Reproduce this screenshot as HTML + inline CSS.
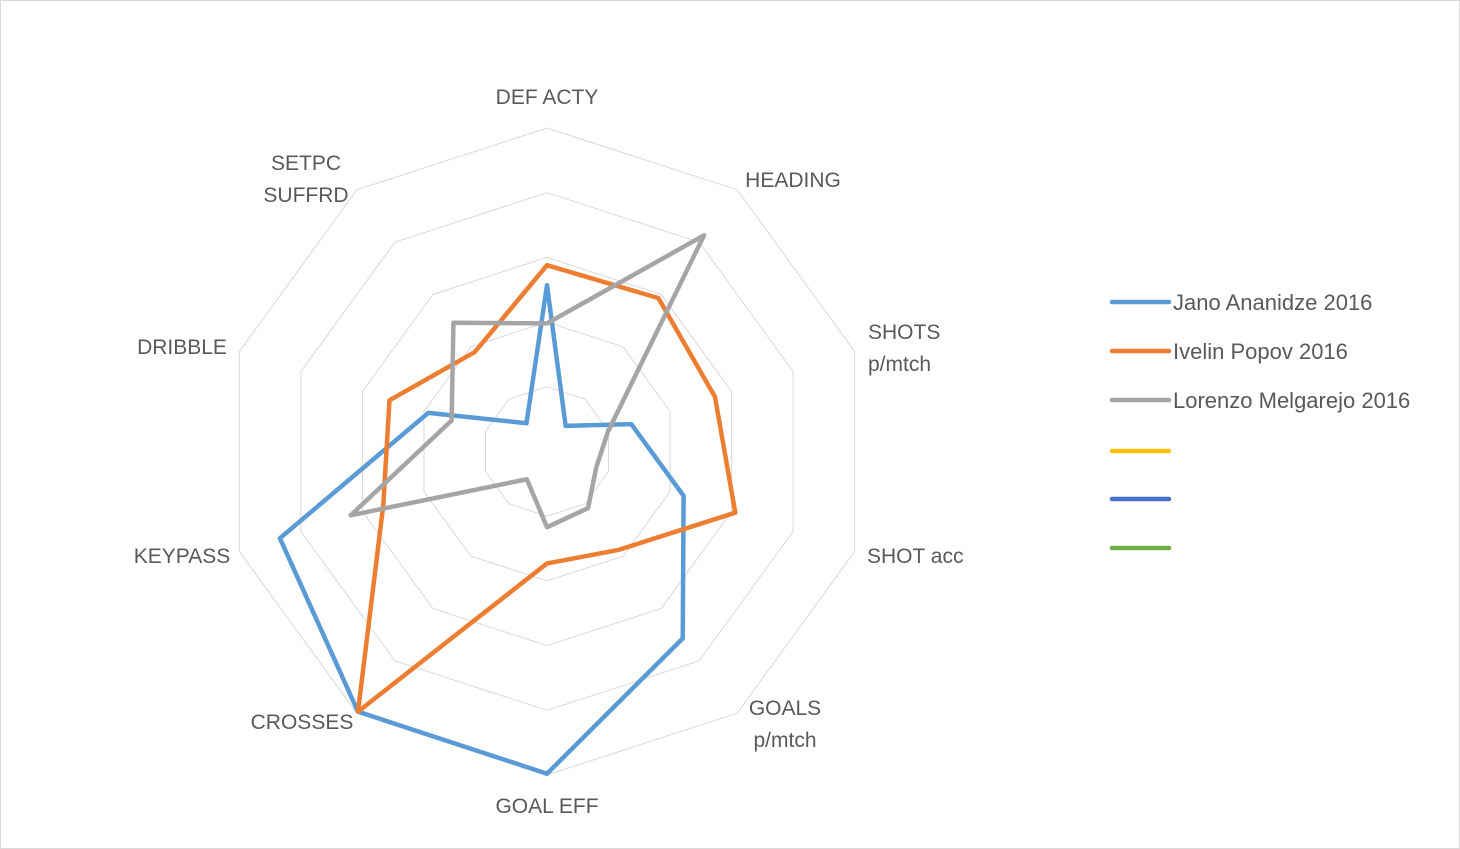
<!DOCTYPE html>
<html><head><meta charset="utf-8">
<style>
html,body{margin:0;padding:0;background:#fff;}
#wrap{position:relative;width:1460px;height:849px;overflow:hidden;}
svg text{font-family:"Liberation Sans",sans-serif;fill:#595959;}
</style></head>
<body>
<div id="wrap">
<svg id="chart" width="1460" height="849">
<rect x="0.5" y="0.5" width="1459" height="848" fill="#fff" stroke="#d9d9d9"/>
</svg>
</div>
<script>
const categories = ["DEF ACTY","HEADING","SHOTS p/mtch","SHOT acc","GOALS p/mtch","GOAL EFF","CROSSES","KEYPASS","DRIBBLE","SETPC SUFFRD"];
const seriesNames = ["Jano Ananidze 2016","Ivelin Popov 2016","Lorenzo Melgarejo 2016","","",""];
const janoValues = [2.57,0.49,1.37,2.22,3.57,4.98,4.97,4.34,1.93,0.54];
const popovValues = [2.88,2.93,2.73,3.06,1.88,1.73,4.97,2.66,2.56,1.9];
const melgarejoValues = [1.98,4.13,0.99,0.8,1.08,1.17,0.53,3.19,1.55,2.46];
const maxValue = 5;
const ringCount = 5;

const NS="http://www.w3.org/2000/svg";
const svg=document.getElementById('chart');
const cx=547, cy=451.5, R=323.5;
function ang(i){return (-90+360/categories.length*i)*Math.PI/180;}
function pt(i,v){const r=v/maxValue*R;return [cx+r*Math.cos(ang(i)), cy+r*Math.sin(ang(i))];}
function mk(tag,attrs){const e=document.createElementNS(NS,tag);for(const k in attrs)e.setAttribute(k,attrs[k]);svg.appendChild(e);return e;}

for(let k=1;k<=ringCount;k++){
  const v=maxValue*k/ringCount;
  const pts=categories.map((c,i)=>pt(i,v).join(',')).join(' ');
  const g=mk('polygon',{points:pts,fill:'none',stroke:'#d9d9d9','stroke-width':1});
  
  
}

const labelPos=[[547,104,'middle'],[793,187,'middle'],[868,339,'start'],[867,563,'start'],[785,715,'middle'],[547,813,'middle'],[302,729,'middle'],[182,563,'middle'],[182,354,'middle'],[306,170,'middle']];
categories.forEach((c,i)=>{
  const [x,y,a]=labelPos[i];
  const words=c.split(' ');
  const lines=(words.length>1 && c!=="DEF ACTY" && c!=="GOAL EFF" && c!=="SHOT acc")?words:[c];
  const t=mk('text',{x:x,y:y,'text-anchor':a,'font-size':21});
  
  
  lines.forEach((ln,j)=>{const s=document.createElementNS(NS,'tspan');s.setAttribute('x',x);s.setAttribute('dy',j?32:0);s.textContent=ln;t.appendChild(s);});
});

const series=[[janoValues,'#5B9BD5','series-jano-ananidze'],[popovValues,'#ED7D31','series-ivelin-popov'],[melgarejoValues,'#A5A5A5','series-lorenzo-melgarejo']];
series.forEach(([vals,col,name])=>{
  const pts=vals.map((v,i)=>pt(i,v).join(',')).join(' ');
  const p=mk('polygon',{points:pts,fill:'none',stroke:col,'stroke-width':4.5,'stroke-linejoin':'round'});
  
  
});

const legendColors=['#5B9BD5','#ED7D31','#A5A5A5','#FFC000','#4472C4','#70AD47'];
const legendY=[302,351,400,451,499,548];
seriesNames.forEach((n,i)=>{
  const l=mk('line',{x1:1112,x2:1169,y1:legendY[i],y2:legendY[i],stroke:legendColors[i],'stroke-width':4.5,'stroke-linecap':'round'});
  
  
  if(n){
    const t=mk('text',{x:1173,y:legendY[i]+8,'font-size':22});
    t.textContent=n;
    
    
  }
});
</script>
</body></html>
